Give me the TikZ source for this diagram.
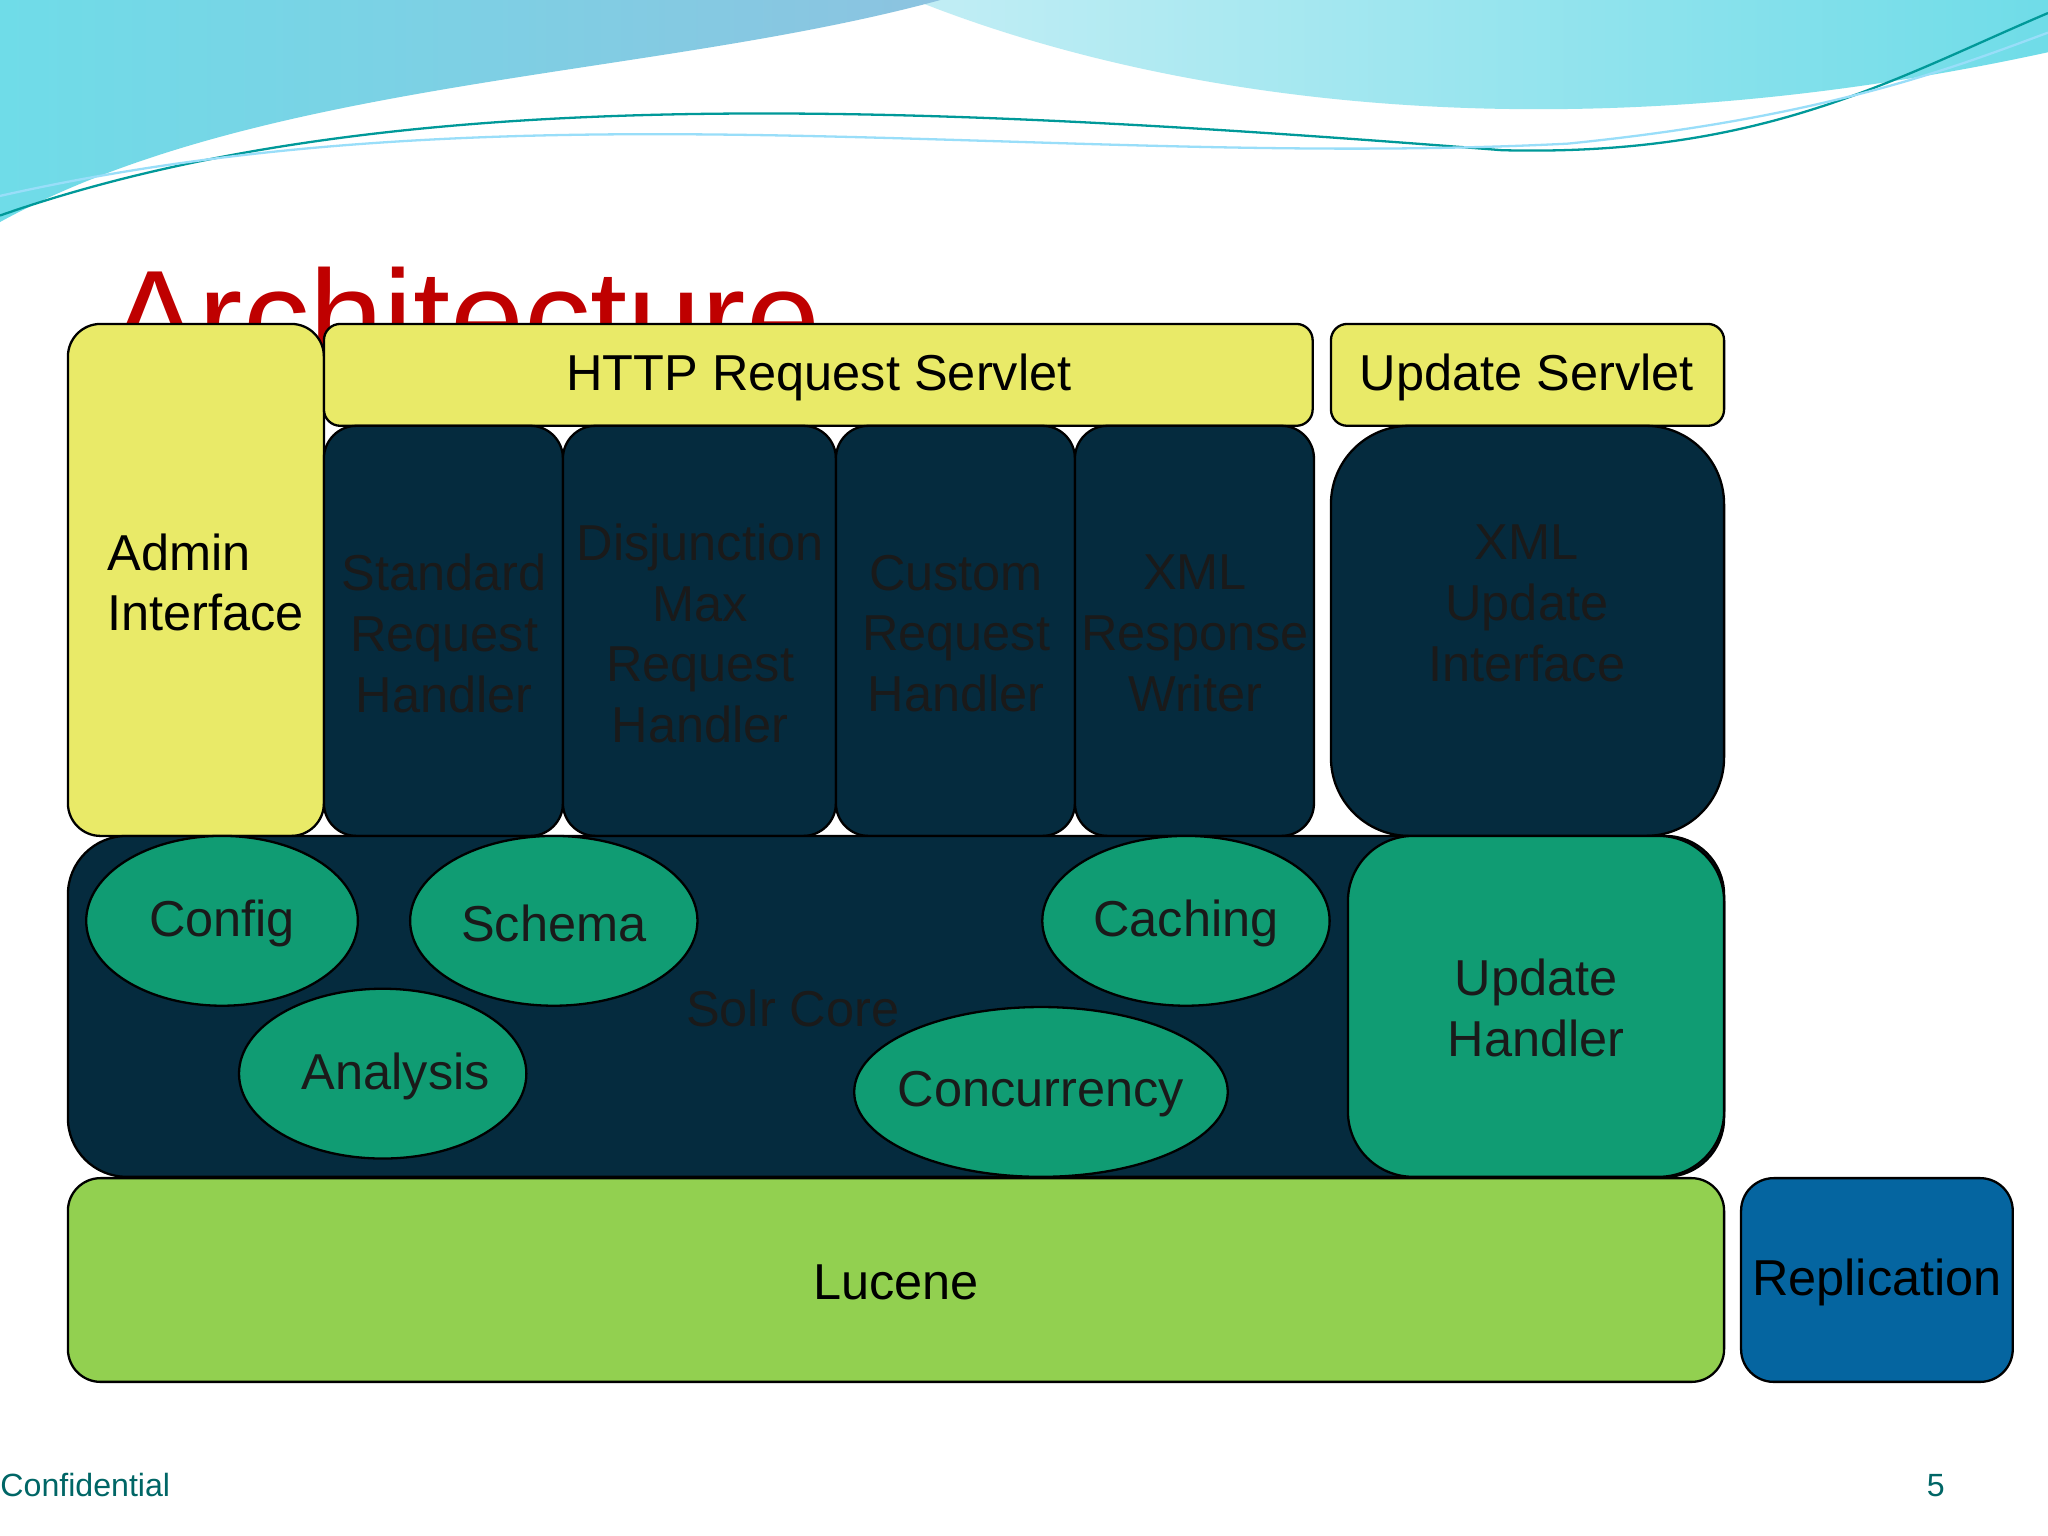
\documentclass[tikz,border=0pt]{standalone}
\usepackage{fontspec}
\setmainfont{Liberation Sans}
\begin{document}
\begin{tikzpicture}[x=0.02cm,y=-0.02cm,
 box/.style={draw=black,line width=1pt,rounded corners=0.5cm},
 yel/.style={box,fill=yelc},
 dark/.style={box,fill=darkc},
 ell/.style={draw=black,line width=1pt,fill=greenc},
 lbl/.style={font=\fontsize{22}{26.5}\selectfont,align=center}]
\definecolor{yelc}{HTML}{E9EA68}
\definecolor{darkc}{HTML}{052B3E}
\definecolor{greenc}{HTML}{109C73}
\definecolor{limec}{HTML}{92D050}
\definecolor{bluec}{HTML}{0565A0}
\definecolor{txtd}{HTML}{1A1A1A}
\definecolor{skyA}{HTML}{8CC3E0}
\definecolor{skyB}{HTML}{6FDCE8}
\definecolor{skyC}{HTML}{A8E6F0}
\useasboundingbox (0,0) rectangle (1568,1176);
\fill[white] (0,0) rectangle (1568,1176);
% waves
\shade[left color=skyC!70,right color=skyB] (700,0) .. controls (900,80) and (1200,120) .. (1568,40) -- (1568,0) -- cycle;
\shade[left color=skyB,right color=skyA] (0,0) -- (720,0) .. controls (500,60) and (200,60) .. (0,170) -- cycle;
\draw[teal!80!cyan,line width=1pt] (0,165) .. controls (300,60) and (700,80) .. (1150,115) .. controls (1350,120) and (1450,60) .. (1568,10);
\draw[cyan!40,line width=1pt] (0,150) .. controls (400,60) and (800,130) .. (1200,110) .. controls (1400,90) and (1500,50) .. (1568,25);
% title
\node[anchor=base west,text=red!75!black,font=\fontsize{58}{66}\selectfont,inner sep=0] (title) at (84,278) {Architecture};
% boxes
\draw[yel] (52,248) rectangle (248,640);
\node[lbl,align=left,anchor=west,text=black] (admin) at (76,446) {Admin\\Interface};
\draw[yel,rounded corners=0.25cm] (248,248) rectangle (1005,326);
\node[lbl] (http) at (627,289) {HTTP Request Servlet};
\draw[yel,rounded corners=0.25cm] (1019,248) rectangle (1320,326);
\node[lbl] (us) at (1169,289) {Update Servlet};
\draw[dark] (248,326) rectangle (431,640);
\node[lbl,text=txtd] (std) at (340,485) {Standard\\Request\\Handler};
\draw[dark] (431,326) rectangle (640,640);
\node[lbl,text=txtd] (dis) at (536,485) {Disjunction\\Max\\Request\\Handler};
\draw[dark] (640,326) rectangle (823,640);
\node[lbl,text=txtd] (cus) at (732,485) {Custom\\Request\\Handler};
\draw[dark] (823,326) rectangle (1006,640);
\node[lbl,text=txtd] (xrw) at (915,485) {XML\\Response\\Writer};
\draw[dark,rounded corners=1.2cm] (1019,326) rectangle (1320,640);
\node[lbl,text=txtd] (xui) at (1169,462) {XML\\Update\\Interface};
% solr core
\draw[dark,rounded corners=0.9cm] (52,640) rectangle (1320,901);
\node[lbl,text=txtd] (solr) at (607,772) {Solr Core};
\draw[ell] (170,705) ellipse [x radius=104,y radius=65];
\node[lbl,text=txtd] (cfg) at (170,707) {Config};
\draw[ell] (424,705) ellipse [x radius=110,y radius=65];
\node[lbl,text=txtd] (sch) at (424,707) {Schema};
\draw[ell] (293,822) ellipse [x radius=110,y radius=65];
\node[lbl,text=txtd] (ana) at (303,824) {Analysis};
\draw[ell] (908,705) ellipse [x radius=110,y radius=65];
\node[lbl,text=txtd] (cac) at (908,707) {Caching};
\draw[ell] (797,836) ellipse [x radius=143,y radius=65];
\node[lbl,text=txtd] (con) at (797,838) {Concurrency};
\draw[box,fill=greenc,rounded corners=1cm] (1032,640) rectangle (1320,901);
\node[lbl,text=txtd] (uh) at (1176,772) {Update\\ Handler};
% bottom
\draw[box,fill=limec] (52,902) rectangle (1320,1058);
\node[lbl] (luc) at (686,982) {Lucene};
\draw[box,fill=bluec] (1333,902) rectangle (1541,1058);
\node[lbl] (rep) at (1437,982) {Replication};
\node[anchor=base west,text=teal!80!black,font=\fontsize{14}{16}\selectfont,inner sep=0] (conf) at (0,1146) {Confidential};
\node[anchor=base,text=teal!80!black,font=\fontsize{14}{16}\selectfont,inner sep=0] (pg) at (1482,1146) {5};
\end{tikzpicture}
\end{document}
